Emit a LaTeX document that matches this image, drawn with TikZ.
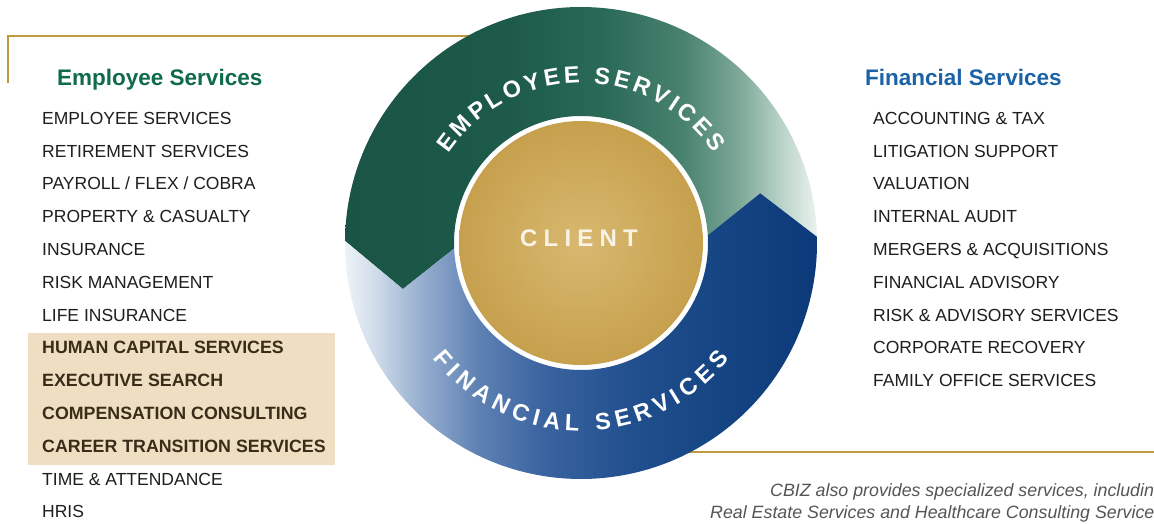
\documentclass[tikz,border=0pt]{standalone}
\usepackage{fontspec}
\setmainfont{Liberation Sans}
\usetikzlibrary{decorations.text}
\definecolor{goldrule}{HTML}{BF9A3E}
\definecolor{itemgray}{HTML}{1E1E1E}
\definecolor{hlbrown}{HTML}{3A2C18}
\definecolor{hlbox}{HTML}{EFDFC2}
\definecolor{esgreen}{HTML}{0F6B4B}
\definecolor{fsblue}{HTML}{1B63A6}
\definecolor{notegray}{HTML}{555555}
\definecolor{clientwhite}{HTML}{F8F3E6}
\definecolor{goldin}{HTML}{D8B970}
\definecolor{goldout}{HTML}{C6A04D}
% green band stops
\definecolor{ga}{HTML}{1A5445}
\definecolor{gb}{HTML}{1D5A49}
\definecolor{gc}{HTML}{2A6A57}
\definecolor{gd}{HTML}{4A8370}
\definecolor{ge}{HTML}{80AA9A}
\definecolor{gf}{HTML}{BDD5CB}
\definecolor{gg}{HTML}{EAF2EE}
% blue band stops
\definecolor{ba}{HTML}{EEF3F8}
\definecolor{bb}{HTML}{D3DFEC}
\definecolor{bc}{HTML}{9DB4D2}
\definecolor{bd}{HTML}{5F82B4}
\definecolor{be}{HTML}{3A64A0}
\definecolor{bf}{HTML}{22508E}
\definecolor{bg}{HTML}{154483}
\definecolor{bh}{HTML}{0C3979}
\pgfdeclarehorizontalshading{greenband}{100bp}{color(0bp)=(ga); color(25bp)=(ga); color(42.5bp)=(gb); color(52.5bp)=(gc); color(61bp)=(gd); color(67bp)=(ge); color(71.5bp)=(gf); color(75bp)=(gg); color(100bp)=(gg)}
\pgfdeclarehorizontalshading{blueband}{100bp}{color(0bp)=(ba); color(25bp)=(ba); color(28bp)=(bb); color(32.5bp)=(bc); color(39bp)=(bd); color(46bp)=(be); color(55bp)=(bf); color(65bp)=(bg); color(75bp)=(bh); color(100bp)=(bh)}
\newcommand{\bandfont}{\fontsize{23.5}{23.5}\selectfont\bfseries\color{white}}
\newcommand{\cgap}{\hspace{6.2pt}}
\begin{document}
\begin{tikzpicture}[x=1pt,y=1pt,
  item/.style={font=\fontsize{17.5}{20}\selectfont, text=itemgray, inner sep=0pt, anchor=base west},
  bolditem/.style={item, font=\fontsize{17.8}{20}\selectfont\bfseries, text=hlbrown},
  heading/.style={font=\fontsize{22.5}{26}\selectfont\bfseries, inner sep=0pt, anchor=base west},
  note/.style={font=\fontsize{17.8}{20}\selectfont\itshape, text=notegray, inner sep=0pt, anchor=base west},
  rule/.style={draw=goldrule, line width=2.8pt}]
\useasboundingbox (0,0) rectangle (1154,523);
\clip (0,0) rectangle (1154,523);
\fill[white] (0,0) rectangle (1154,523);

% gold rules (behind the circle)
\coordinate (tl1) at (8,440);
\coordinate (tl2) at (8,487);
\coordinate (tl3) at (540,487);
\draw[rule] (tl1) -- (tl2) -- (tl3);
\coordinate (br1) at (620,71);
\coordinate (br2) at (1160,71);
\draw[rule] (br1) -- (br2);

% highlight box
\fill[hlbox] (28,58) rectangle (335,190);

% headings
\node[heading, text=esgreen] (hes) at (57,437) {Employee Services};
\node[heading, text=fsblue] (hfs) at (865,437) {Financial Services};

% left list
\foreach \t [count=\i from 0] in {EMPLOYEE SERVICES, RETIREMENT SERVICES, PAYROLL / FLEX / COBRA, PROPERTY \& CASUALTY, INSURANCE, RISK MANAGEMENT, LIFE INSURANCE}
  \node[item] (l\i) at (42,{398.7-32.8*\i}) {\t};
\foreach \t [count=\i from 7] in {HUMAN CAPITAL SERVICES, EXECUTIVE SEARCH, COMPENSATION CONSULTING, CAREER TRANSITION SERVICES}
  \node[bolditem] (l\i) at (42,{398.7-32.8*\i}) {\t};
\foreach \t [count=\i from 11] in {TIME \& ATTENDANCE, HRIS}
  \node[item] (l\i) at (42,{398.7-32.8*\i}) {\t};

% right list
\foreach \t [count=\i from 0] in {ACCOUNTING \& TAX, LITIGATION SUPPORT, VALUATION, INTERNAL AUDIT, MERGERS \& ACQUISITIONS, FINANCIAL ADVISORY, RISK \& ADVISORY SERVICES, CORPORATE RECOVERY, FAMILY OFFICE SERVICES}
  \node[item] (r\i) at (873,{398.7-32.8*\i}) {\t};

% note
\node[note] (n1) at (770,27) {CBIZ also provides specialized services, including};
\node[note] (n2) at (710,5) {Real Estate Services and Healthcare Consulting Services};

% circle
\begin{scope}[shift={(581,280)}]
  \shade[shading=greenband]
    (179.5:236) arc[start angle=179.5, end angle=1.5, radius=236]
    -- (15.5:186) -- (3.5:127)
    arc[start angle=3.5, end angle=182.5, radius=127]
    -- (194.5:184) -- cycle;
  \shade[shading=blueband]
    (179.5:236) arc[start angle=179.5, end angle=361.5, radius=236]
    -- (15.5:186) -- (3.5:127)
    arc[start angle=3.5, end angle=-177.5, radius=127]
    -- (194.5:184) -- cycle;
  \shade[inner color=goldin, outer color=goldout] (0,0) circle[radius=122];
  \node[font=\fontsize{24}{24}\selectfont\bfseries, text=clientwhite, inner sep=0pt] (client) at (-2,4.5) {C\cgap L\cgap I\cgap E\cgap N\cgap T};
  \path[decorate, decoration={text along path, text={|\bandfont|EMPLOYEE SERVICES}, text align={fit to path}}]
    (146:160) arc[start angle=146, end angle=34, radius=160];
  \path[decorate, decoration={text along path, text={|\bandfont|FINANCIAL SERVICES}, text align={fit to path}}]
    (218:188) arc[start angle=218, end angle=322, radius=188];
\end{scope}
\end{tikzpicture}
\end{document}
